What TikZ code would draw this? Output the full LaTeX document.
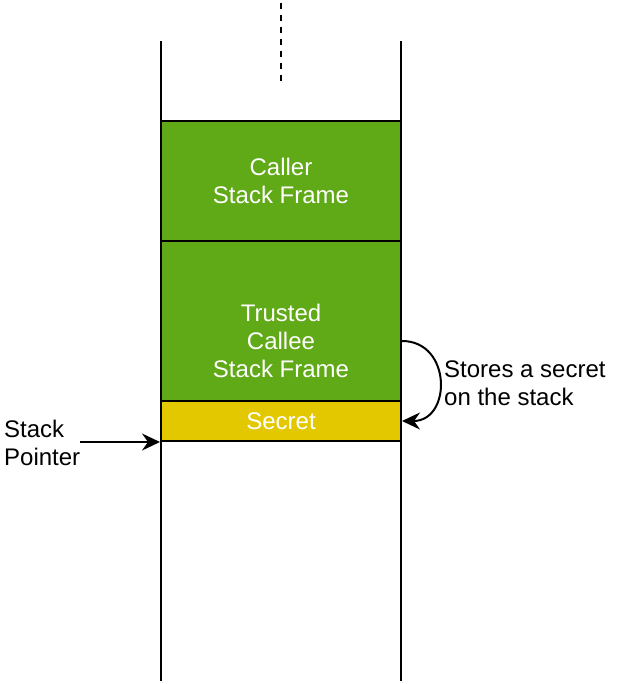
\documentclass[tikz,border=0pt]{standalone}
\usepackage{fontspec}
\setmainfont{Liberation Sans}
\usetikzlibrary{arrows.meta}
\definecolor{framegreen}{HTML}{60A917}
\definecolor{secretyellow}{HTML}{E3C800}
\tikzset{
    frame/.style={draw, line width=2pt, fill=framegreen, minimum width=240pt, text=white, align=center, inner sep=0pt},
    wall/.style={line width=2pt},
    txt/.style={align=left, inner sep=0pt, anchor=west},
    arr/.style={line width=2pt, -{Stealth[length=18pt, width=17pt, inset=6pt]}}
}
\begin{document}
\begin{tikzpicture}[x=1pt, y=-1pt, every node/.style={font=\fontsize{24}{28}\selectfont}]
    \useasboundingbox (0,0) rectangle (642,684);

    % Stack walls
    \draw[wall] (161,41) -- (161,681);
    \draw[wall] (401,41) -- (401,681);
    \draw[wall, dash pattern=on 6pt off 6pt] (281,3) -- (281,81);

    % Caller frame
    \node[frame, minimum height=120pt] (caller) at (281,181) {Caller\\Stack Frame};

    % Trusted callee frame
    \node[frame, minimum height=160pt] (callee) at (281,321) {};
    \node[text=white, align=center] (calleetext) at ([yshift=-20pt]callee.center) {Trusted\\Callee\\Stack Frame};

    % Secret slot
    \node[frame, fill=secretyellow, minimum height=40pt] (secret) at (281,421) {Secret};

    % Stack pointer
    \node[txt] (sp) at (4,443) {Stack\\Pointer};
    \draw[arr] (sp.east |- secret.south west) -- (secret.south west);

    % Store arrow
    \draw[arr] ([yshift=-20pt]callee.east) to[out=0, in=0, looseness=1.6] (secret.east);
    \node[txt] (store) at (444,383) {Stores a secret\\on the stack};
\end{tikzpicture}
\end{document}
